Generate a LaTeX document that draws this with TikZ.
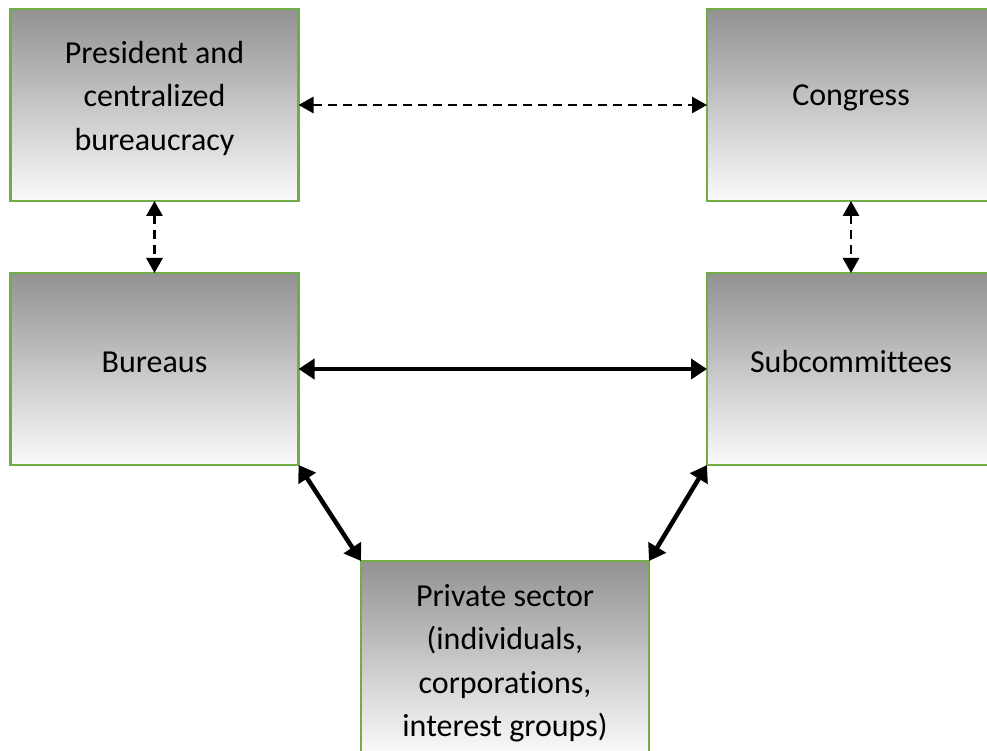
\documentclass[tikz,border=0pt]{standalone}
\usepackage{fontspec}
\setmainfont[Ligatures={NoCommon}]{Carlito}
\usetikzlibrary{arrows.meta}
\definecolor{boxgreen}{RGB}{112,173,71}
\definecolor{gtop}{RGB}{146,146,146}
\definecolor{gbot}{RGB}{250,250,250}
\tikzset{
  boxnode/.style={rectangle, draw=boxgreen, line width=2.5pt, top color=gtop, bottom color=gbot,
    minimum width=288pt, minimum height=192pt, inner sep=0pt, outer sep=0pt},
  boxtext/.style={font=\fontsize{32pt}{43.5pt}\selectfont, align=center, text=black},
  dasharrow/.style={line width=2.8pt, dash pattern=on 9pt off 6pt,
    {Triangle[length=15pt,width=16pt]}-{Triangle[length=15pt,width=16pt]}},
  solidarrow/.style={line width=4.5pt,
    {Triangle[length=16pt,width=20pt]}-{Triangle[length=16pt,width=20pt]}}
}
\begin{document}
\begin{tikzpicture}[x=1pt,y=-1pt]
\useasboundingbox (0,0) rectangle (987,751);
\clip (0,0) rectangle (987,751);
\node[boxnode, label={[boxtext, yshift=7pt]center:President and\\centralized\\bureaucracy}] (pres) at (154.5,105) {};
\node[boxnode, label={[boxtext, yshift=7pt]center:Congress}] (cong) at (851,105) {};
\node[boxnode, label={[boxtext, yshift=7pt]center:Bureaus}] (bur) at (154.5,369) {};
\node[boxnode, label={[boxtext, yshift=7pt]center:Subcommittees}] (sub) at (851,369) {};
\node[boxnode, label={[boxtext, yshift=-6pt]center:Private sector\\(individuals,\\corporations,\\interest groups)}] (priv) at (505,657) {};
\draw[dasharrow] (pres.east) -- (cong.west);
\draw[dasharrow] (pres.south) -- (bur.north);
\draw[dasharrow] (cong.south) -- (sub.north);
\draw[solidarrow] (bur.east) -- (sub.west);
\draw[solidarrow] (bur.south east) -- (priv.north west);
\draw[solidarrow] (sub.south west) -- (priv.north east);
\end{tikzpicture}
\end{document}
